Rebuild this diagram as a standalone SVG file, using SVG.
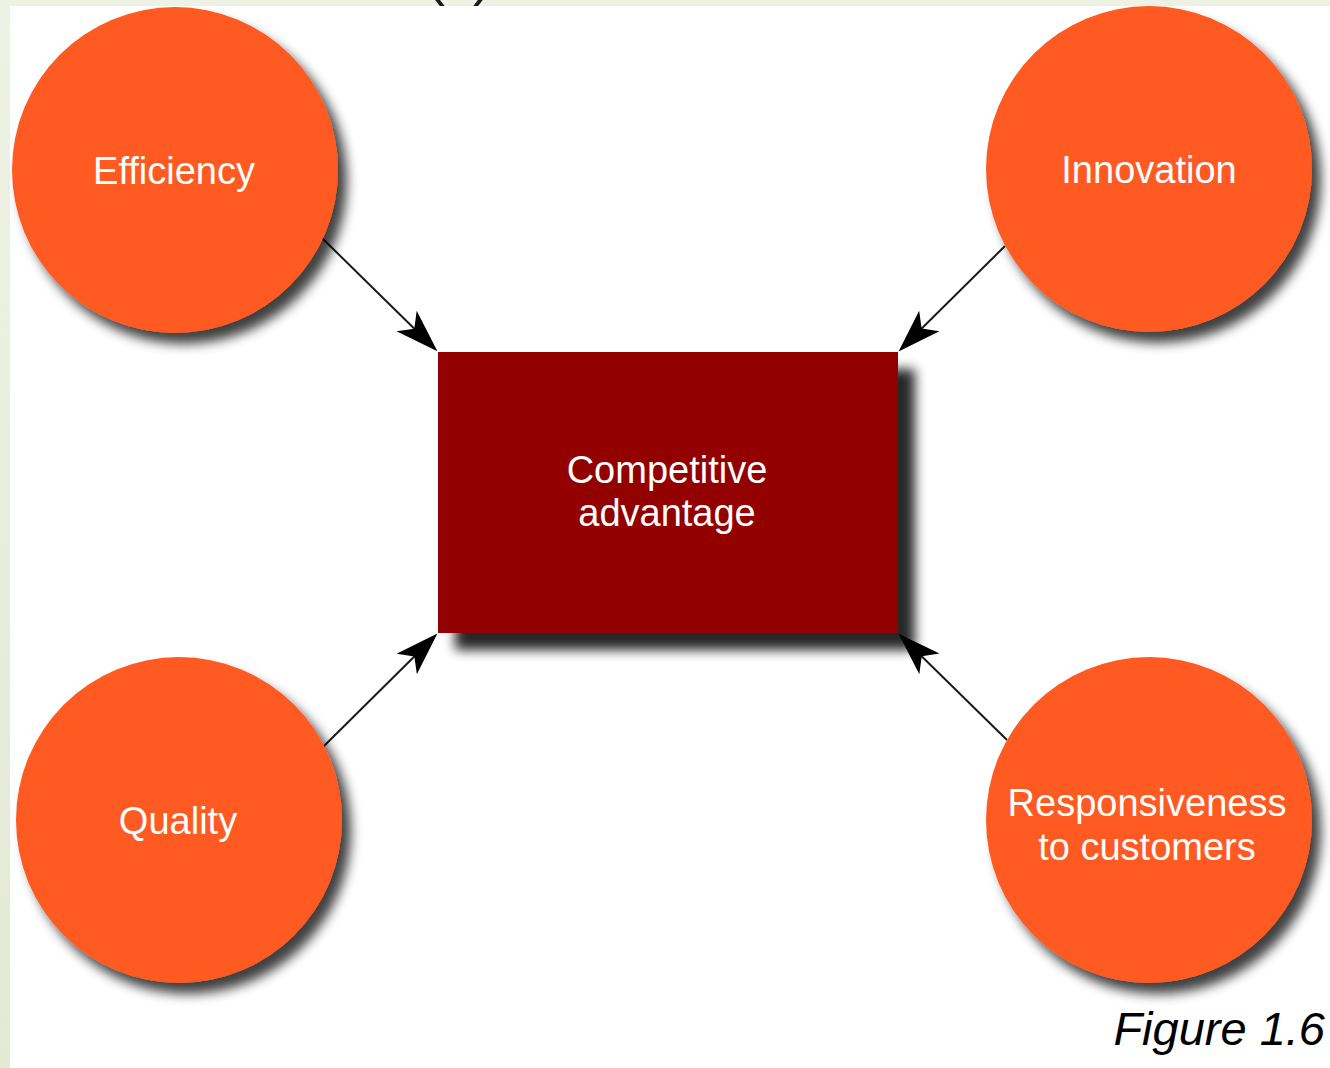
<svg xmlns="http://www.w3.org/2000/svg" width="1330" height="1068" viewBox="0 0 1330 1068">
  <defs>
    <linearGradient id="bg" x1="0" y1="0" x2="0" y2="1">
      <stop offset="0" stop-color="#eef2e4"/>
      <stop offset="1" stop-color="#e3e9d2"/>
    </linearGradient>
    <filter id="shCircle" x="-20%" y="-20%" width="150%" height="150%">
      <feGaussianBlur in="SourceAlpha" stdDeviation="6"/>
      <feOffset dx="9" dy="11" result="b"/>
      <feComponentTransfer in="b" result="s"><feFuncA type="linear" slope="0.75"/></feComponentTransfer>
      <feMerge><feMergeNode in="s"/><feMergeNode in="SourceGraphic"/></feMerge>
    </filter>
    <filter id="shRect" x="-20%" y="-20%" width="150%" height="150%">
      <feGaussianBlur in="SourceAlpha" stdDeviation="6"/>
      <feOffset dx="17" dy="17" result="b"/>
      <feComponentTransfer in="b" result="s"><feFuncA type="linear" slope="0.85"/></feComponentTransfer>
      <feMerge><feMergeNode in="s"/><feMergeNode in="SourceGraphic"/></feMerge>
    </filter>
    <marker id="arrow" markerUnits="userSpaceOnUse" markerWidth="60" markerHeight="60" viewBox="-40 -20 50 40" refX="-4" refY="0" orient="auto" overflow="visible">
      <path d="M0,0 L-36,-12 L-27,0 L-36,12 Z" fill="#000"/>
    </marker>
    <style>
      .circ { fill: #ff5a22; }
      .box { fill: #920000; }
      .lbl { font-family: "Liberation Sans", Arial, Helvetica, sans-serif; font-size: 38px; fill: #ffffff; text-anchor: middle; }
      .conn { stroke: #1a1a1a; stroke-width: 2; fill: none; marker-end: url(#arrow); }
      .cap { font-family: "Liberation Sans", Arial, Helvetica, sans-serif; font-style: italic; font-size: 47px; fill: #000; text-anchor: end; }
    </style>
  </defs>

  <rect x="0" y="0" width="1330" height="1068" fill="url(#bg)"/>
  <rect x="10" y="6" width="1320" height="1062" fill="#ffffff"/>
  <text x="459" y="-6" font-family="Liberation Sans, Arial, sans-serif" font-size="56" fill="#1a1a1a" text-anchor="middle">(c)</text>

  <g id="connectors">
    <path class="conn" d="M322,238 L434,348"/>
    <path class="conn" d="M1005,246 L902,348"/>
    <path class="conn" d="M323,747 L434,637"/>
    <path class="conn" d="M1007,740 L902,637"/>
  </g>

  <g id="competitive-advantage">
    <rect class="box" x="438" y="352" width="460" height="281" filter="url(#shRect)"/>
    <text class="lbl" x="667" y="483">Competitive</text>
    <text class="lbl" x="667" y="526">advantage</text>
  </g>

  <g id="efficiency">
    <circle class="circ" cx="175" cy="170" r="163" filter="url(#shCircle)"/>
    <text class="lbl" x="174" y="184">Efficiency</text>
  </g>

  <g id="innovation">
    <circle class="circ" cx="1149" cy="169" r="163" filter="url(#shCircle)"/>
    <text class="lbl" x="1149" y="183">Innovation</text>
  </g>

  <g id="quality">
    <circle class="circ" cx="179" cy="820" r="163" filter="url(#shCircle)"/>
    <text class="lbl" x="178" y="834">Quality</text>
  </g>

  <g id="responsiveness">
    <circle class="circ" cx="1149" cy="820" r="163" filter="url(#shCircle)"/>
    <text class="lbl" x="1147" y="816">Responsiveness</text>
    <text class="lbl" x="1147" y="860">to customers</text>
  </g>

  <text class="cap" x="1325" y="1045">Figure 1.6</text>
</svg>
